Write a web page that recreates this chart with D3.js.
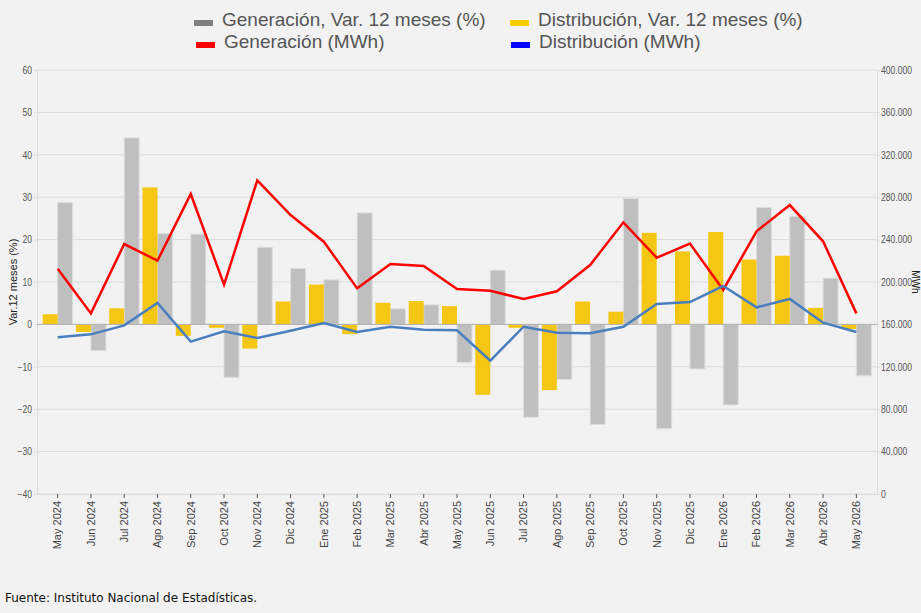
<!DOCTYPE html>
<html>
<head>
<meta charset="utf-8">
<script src="https://d3js.org/d3.v7.min.js"></script>
<style>
  body { margin: 0; background: #f2f2f2; }
  svg { display: block; }
</style>
</head>
<body>
<svg id="chart" width="921" height="613"></svg>
<script>
var meses = ["May 2024","Jun 2024","Jul 2024","Ago 2024","Sep 2024","Oct 2024","Nov 2024","Dic 2024",
  "Ene 2025","Feb 2025","Mar 2025","Abr 2025","May 2025","Jun 2025","Jul 2025","Ago 2025","Sep 2025",
  "Oct 2025","Nov 2025","Dic 2025","Ene 2026","Feb 2026","Mar 2026","Abr 2026","May 2026"];

// Var. 12 meses (%)
var genVar = [28.7, -6.2, 44.0, 21.4, 21.3, -12.5, 18.2, 13.2, 10.5, 26.3, 3.7, 4.6, -9.0,
  12.8, -21.9, -13.0, -23.6, 29.7, -24.6, -10.5, -19.0, 27.6, 25.5, 10.9, -12.1];
var disVar = [2.4, -1.8, 3.8, 32.3, -2.7, -0.8, -5.7, 5.4, 9.4, -2.3, 5.1, 5.5, 4.3,
  -16.6, -0.8, -15.5, 5.4, 3.0, 21.6, 17.2, 21.8, 15.3, 16.2, 3.9, -1.1];

// MWh
var genMWh = [212500, 170400, 235800, 220100, 283000, 197500, 295900, 263200, 238000, 194000,
  217000, 215100, 193400, 191800, 184000, 191200, 216000, 256300, 222900, 236200, 192500,
  247800, 272600, 238400, 170400];
var disMWh = [147800, 150600, 159100, 180200, 143700, 153500, 147200, 154000, 161300, 152800,
  157800, 155000, 154400, 125800, 157800, 152200, 151600, 157800, 179200, 181100, 196200,
  176100, 184000, 161600, 152800];

var leftTicks = [60, 50, 40, 30, 20, 10, 0, -10, -20, -30, -40];
var rightTicks = [0, 40000, 80000, 120000, 160000, 200000, 240000, 280000, 320000, 360000, 400000];

var svg = d3.select("#chart");
var pTop = 70, pBottom = 494, pLeft = 37, pRight = 877;
var narrow = 0.86; // tick labels look condensed

var x = d3.scaleBand().domain(meses).range([41, 873]);
var xs = d3.scaleBand().domain(["dis", "gen"]).range([0, x.bandwidth()]).paddingOuter(0.11);
var yL = d3.scaleLinear().domain([-40, 60]).range([pBottom, pTop]);
var yR = d3.scaleLinear().domain([0, 400000]).range([pBottom, pTop]);

var loc = d3.formatLocale({decimal: ",", thousands: ".", grouping: [3], currency: ["", ""]});
var fmt = loc.format(",");

svg.append("rect").attr("width", 921).attr("height", 613).attr("fill", "#f2f2f2");

// grid
svg.append("g").selectAll("line").data(leftTicks).join("line")
  .attr("x1", pLeft).attr("x2", pRight)
  .attr("y1", d => yL(d)).attr("y2", d => yL(d))
  .attr("stroke", "#dcdcdc").attr("stroke-width", 1);

// left axis
var gL = svg.append("g").attr("transform", "translate(" + pLeft + ",0)")
  .call(d3.axisLeft(yL).tickValues(leftTicks).tickSize(3).tickFormat(d3.format("d")));
gL.select(".domain").attr("stroke", "#dcdcdc");
gL.selectAll(".tick line").attr("stroke", "#dcdcdc");
gL.selectAll("text").attr("fill", "#555").attr("font-size", 10)
  .attr("font-family", "'Liberation Sans', sans-serif")
  .attr("x", -5 / narrow).attr("transform", "scale(" + narrow + ",1)");

// right axis
var gR = svg.append("g").attr("transform", "translate(" + pRight + ",0)")
  .call(d3.axisRight(yR).tickValues(rightTicks).tickSize(3).tickFormat(fmt));
gR.select(".domain").attr("stroke", "#dcdcdc");
gR.selectAll(".tick line").attr("stroke", "#dcdcdc");
gR.selectAll("text").attr("fill", "#555").attr("font-size", 10)
  .attr("font-family", "'Liberation Sans', sans-serif")
  .attr("x", 4 / narrow).attr("transform", "scale(" + narrow + ",1)");

// bottom axis
var gX = svg.append("g").attr("transform", "translate(0," + pBottom + ")")
  .call(d3.axisBottom(x).tickSize(4).tickSizeOuter(0));
gX.select(".domain").attr("stroke", "#dcdcdc").attr("d", "M" + pLeft + ",0.5H" + pRight);
gX.selectAll(".tick line").attr("stroke", "#555");
gX.selectAll("text")
  .attr("font-size", 11).attr("fill", "#444")
  .attr("font-family", "'Liberation Sans', Arial, sans-serif")
  .attr("text-anchor", "end")
  .attr("transform", "rotate(-90)")
  .attr("x", -7).attr("y", 0).attr("dy", "0.35em");

// bars
var bars = svg.append("g");
bars.selectAll(".gen").data(genVar).join("rect")
  .attr("x", (d, i) => x(meses[i]) + xs("gen"))
  .attr("width", xs.bandwidth())
  .attr("y", d => yL(Math.max(0, d)))
  .attr("height", d => Math.abs(yL(d) - yL(0)))
  .attr("fill", "#bfbfbf").attr("stroke", "#dedede").attr("stroke-width", 1);
bars.selectAll(".dis").data(disVar).join("rect")
  .attr("x", (d, i) => x(meses[i]) + xs("dis"))
  .attr("width", xs.bandwidth())
  .attr("y", d => yL(Math.max(0, d)))
  .attr("height", d => Math.abs(yL(d) - yL(0)))
  .attr("fill", "#f5c613");

// zero line
svg.append("line").attr("x1", pLeft).attr("x2", pRight)
  .attr("y1", yL(0)).attr("y2", yL(0)).attr("stroke", "#b0b0b0");

// lines
var cx = i => x(meses[i]) + x.bandwidth() / 2;
var lineG = d3.line().x((d, i) => cx(i)).y(d => yR(d));
svg.append("path").datum(genMWh).attr("d", lineG)
  .attr("fill", "none").attr("stroke", "#ff0000").attr("stroke-width", 2.5);
svg.append("path").datum(disMWh).attr("d", lineG)
  .attr("fill", "none").attr("stroke", "#4a7fbf").attr("stroke-width", 2.5);

// axis titles
svg.append("text").attr("transform", "translate(17," + ((pTop + pBottom) / 2) + ") rotate(-90)")
  .attr("text-anchor", "middle").attr("font-size", 11).attr("fill", "#222")
  .attr("font-family", "'Liberation Sans', Arial, sans-serif")
  .text("Var.12 meses (%)");
svg.append("text").attr("transform", "translate(912," + ((pTop + pBottom) / 2) + ") rotate(90)")
  .attr("text-anchor", "middle").attr("font-size", 10).attr("fill", "#222")
  .attr("font-family", "'Liberation Sans', Arial, sans-serif")
  .text("MWh");

// legend
var legend = [
  {label: "Generación, Var. 12 meses (%)", color: "#808080", x: 194, y: 19},
  {label: "Distribución, Var. 12 meses (%)", color: "#ffcc00", x: 510, y: 19},
  {label: "Generación (MWh)", color: "#ff0000", x: 196, y: 41},
  {label: "Distribución (MWh)", color: "#0000ff", x: 511, y: 41}
];
var lg = svg.append("g").selectAll("g").data(legend).join("g")
  .attr("transform", d => "translate(" + d.x + "," + d.y + ")");
lg.append("rect").attr("y", 1).attr("width", 19).attr("height", 6).attr("fill", d => d.color);
lg.append("text").attr("x", 28).attr("y", 7)
  .attr("font-size", 19).attr("fill", "#555")
  .attr("font-family", "'Liberation Sans', sans-serif")
  .text(d => d.label);

svg.append("text").attr("x", 5).attr("y", 602)
  .attr("font-size", 12).attr("fill", "#111")
  .attr("font-family", "'DejaVu Sans', sans-serif")
  .text("Fuente: Instituto Nacional de Estadísticas.");
</script>
</body>
</html>
